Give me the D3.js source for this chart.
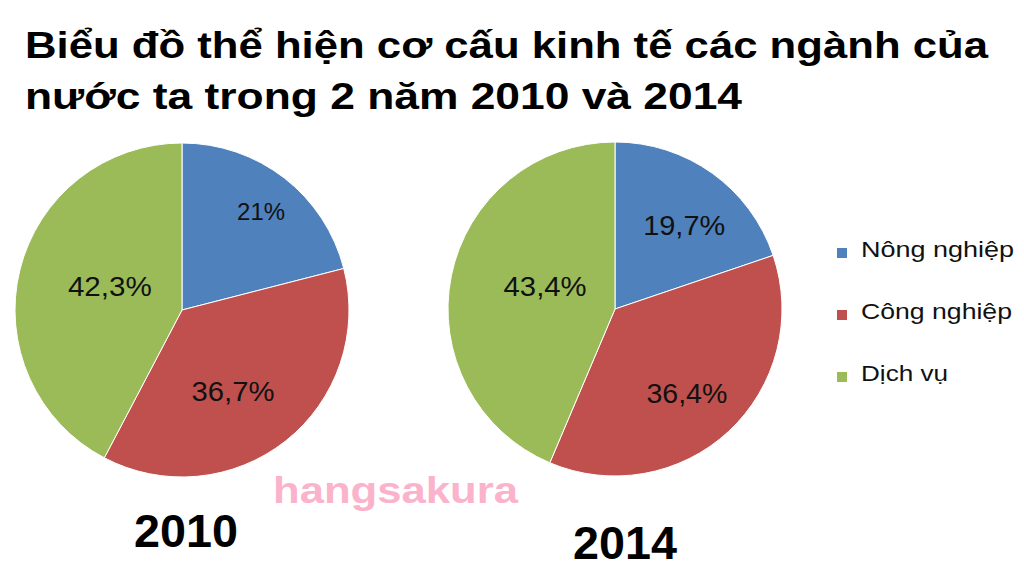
<!DOCTYPE html>
<html>
<head>
<meta charset="utf-8">
<script src="https://cdn.jsdelivr.net/npm/d3@7"></script>
<style>
html,body{margin:0;padding:0;background:#fff;}
svg{display:block;font-family:"Liberation Sans",Arial,sans-serif;}
</style>
</head>
<body>
<svg id="chart" width="1024" height="586"></svg>
<script>
// ---- data ----
const titleLines = ["Biểu đồ thể hiện cơ cấu kinh tế các ngành của", "nước ta trong 2 năm 2010 và 2014"];
const categories = ["Nông nghiệp", "Công nghiệp", "Dịch vụ"];
const years = ["2010", "2014"];
const values2010 = [21, 36.7, 42.3];
const values2014 = [19.7, 36.4, 43.4];
const watermark = "hangsakura";

// ---- styles / layout ----
const colors = ["#4F81BD", "#C0504D", "#9BBB59"];
const pieCenters = [[182, 310], [615, 309]];
const radius = 167;
const labelRadius = [[0.754, 0.578, 0.455], [0.647, 0.666, 0.44]];
const labelShiftDeg = [[1.1, 6.4, 4.5], [4.2, 2.6, 6.4]];
const labelFont = [[23, 27, 27], [27, 27, 27]];
const labelWidth = [[48, 83, 84], [82, 81, 83]];
const yearPos = [[186, 547], [625, 559]];

const svg = d3.select("#chart");

// title
const titleBase = [58, 109];
const titleWidth = [963, 717];
titleLines.forEach((t, i) => {
  svg.append("text")
    .attr("x", 25).attr("y", titleBase[i])
    .attr("font-size", 37).attr("font-weight", "bold")
    .attr("fill", "#000")
    .attr("textLength", titleWidth[i]).attr("lengthAdjust", "spacingAndGlyphs")
    .text(t);
});

const color = d3.scaleOrdinal().domain(categories).range(colors);
const pie = d3.pie().sort(null).value(d => d.value);
const arc = d3.arc().innerRadius(0).outerRadius(radius);
const fmt = v => String(v).replace(".", ",") + "%";

[values2010, values2014].forEach((vals, pi) => {
  const data = categories.map((c, i) => ({cat: c, value: vals[i]}));
  const arcs = pie(data);
  const g = svg.append("g").attr("transform", `translate(${pieCenters[pi][0]},${pieCenters[pi][1]})`);
  g.selectAll("path").data(arcs).enter().append("path")
    .attr("d", arc)
    .attr("fill", d => color(d.data.cat))
    .attr("stroke", "#fff").attr("stroke-width", 1);
  g.selectAll("text.lbl").data(arcs).enter().append("text")
    .attr("class", "lbl")
    .attr("x", (d, i) => {
      const a = (d.startAngle + d.endAngle) / 2 + labelShiftDeg[pi][i] * Math.PI / 180;
      return radius * labelRadius[pi][i] * Math.sin(a);
    })
    .attr("y", (d, i) => {
      const a = (d.startAngle + d.endAngle) / 2 + labelShiftDeg[pi][i] * Math.PI / 180;
      return -radius * labelRadius[pi][i] * Math.cos(a);
    })
    .attr("dy", "0.35em")
    .attr("text-anchor", "middle")
    .attr("font-size", (d, i) => labelFont[pi][i])
    .attr("textLength", (d, i) => labelWidth[pi][i])
    .attr("lengthAdjust", "spacingAndGlyphs")
    .attr("fill", "#111")
    .text(d => fmt(d.value));

  svg.append("text")
    .attr("x", yearPos[pi][0]).attr("y", yearPos[pi][1])
    .attr("text-anchor", "middle")
    .attr("font-size", 47).attr("font-weight", "bold")
    .attr("textLength", 104).attr("lengthAdjust", "spacingAndGlyphs")
    .attr("fill", "#000")
    .text(years[pi]);
});

// watermark
svg.append("text")
  .attr("x", 273).attr("y", 503)
  .attr("font-size", 36).attr("font-weight", "bold")
  .attr("fill", "#FBB3CB")
  .attr("textLength", 245).attr("lengthAdjust", "spacingAndGlyphs")
  .text(watermark);

// legend
const legendBase = [257, 319, 381];
const legendWidth = [153, 151, 87];
const lg = svg.append("g");
categories.forEach((c, i) => {
  lg.append("rect")
    .attr("x", 837).attr("y", legendBase[i] - 9)
    .attr("width", 10).attr("height", 10)
    .attr("fill", color(c));
  lg.append("text")
    .attr("x", 861).attr("y", legendBase[i])
    .attr("font-size", 22)
    .attr("fill", "#111")
    .attr("textLength", legendWidth[i]).attr("lengthAdjust", "spacingAndGlyphs")
    .text(c);
});
</script>
</body>
</html>
